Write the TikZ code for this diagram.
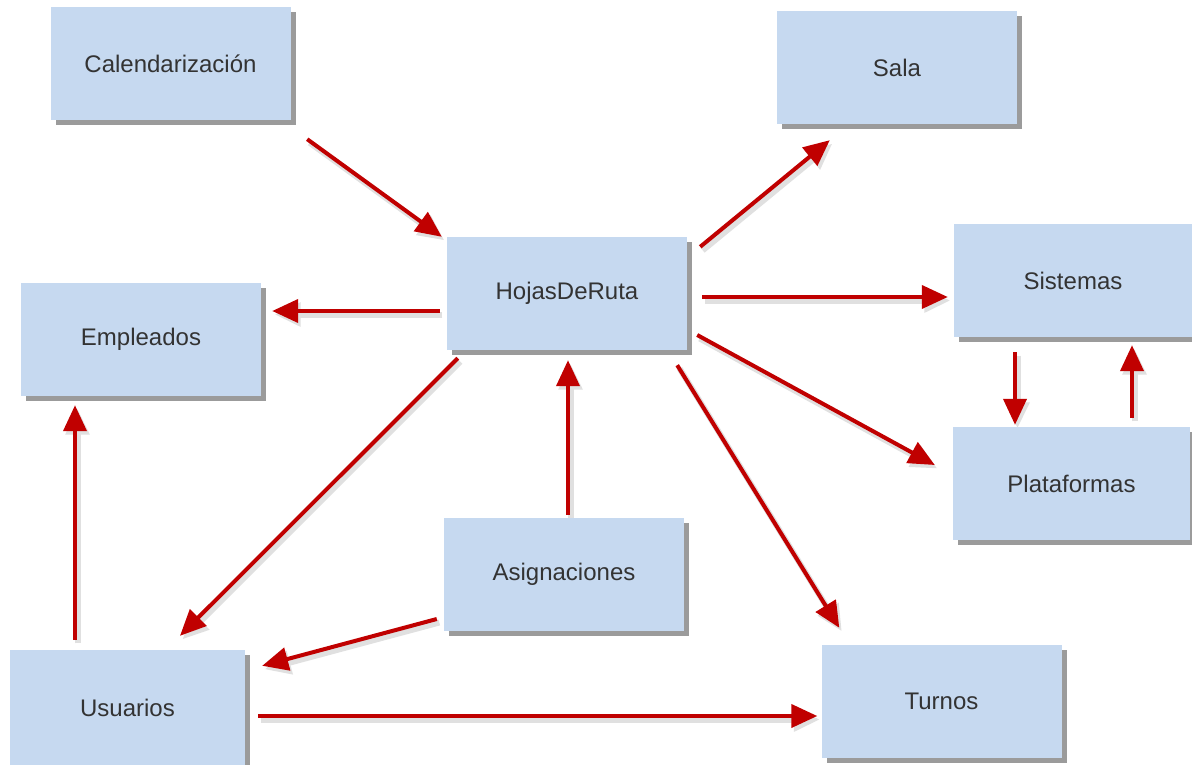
\documentclass[tikz,border=0pt]{standalone}
\usepackage{fontspec}
\setmainfont{Liberation Sans}
\usetikzlibrary{arrows.meta,shadows}
\definecolor{boxfill}{HTML}{C6D9F0}
\definecolor{arrred}{HTML}{C00000}
\definecolor{txt}{HTML}{333333}
\tikzset{
  box/.style={rectangle, fill=boxfill, minimum width=240pt, minimum height=113pt, inner sep=0pt,
    text=txt, font=\fontsize{24}{29}\selectfont,
    drop shadow={shadow xshift=5pt, shadow yshift=-5pt, fill=black!65, opacity=0.6}},
  arr/.style={line width=4pt, draw=arrred, -{Triangle[length=26pt,width=23pt]},
    preaction={draw=black!12, line width=6pt, transform canvas={xshift=2.5pt,yshift=-3.5pt}}}
}
\begin{document}
\begin{tikzpicture}[x=1pt,y=-1pt]
\useasboundingbox[fill=white] (0,0) rectangle (1192,765);
\node[box] (cal) at (170.5,63.5) {Calendarización};
\node[box] (sala) at (897,68) {Sala};
\node[box] (hoja) at (567,293.5) {HojasDeRuta};
\node[box] (emp) at (141,339.5) {Empleados};
\node[box, minimum width=238pt] (sis) at (1073,280.5) {Sistemas};
\node[box, minimum width=237pt] (plat) at (1071.5,483.5) {Plataformas};
\node[box] (asig) at (564,574.5) {Asignaciones};
\node[box, minimum width=235pt, minimum height=115pt] (usu) at (127.5,707.5) {Usuarios};
\node[box] (turn) at (941.5,701.5) {Turnos};

\draw[arr] ([shift={(16.5,19)}]cal.south east) -- ([shift={(-5,0)}]hoja.north west);
\draw[arr] ([shift={(13,10)}]hoja.north east) -- ([shift={(53,15.5)}]sala.south west);
\draw[arr] ([shift={(-7,17.5)}]hoja.west) -- ([shift={(11,-28.5)}]emp.east);
\draw[arr] ([shift={(15,3.5)}]hoja.east) -- ([shift={(-6,16.5)}]sis.west);
\draw[arr] ([shift={(10,41.5)}]hoja.east) -- ([shift={(-18,-18.5)}]plat.west);
\draw[arr] ([shift={(11,8)}]hoja.south west) -- ([shift={(52.5,-14)}]usu.north);
\draw[arr] ([shift={(-10,15)}]hoja.south east) -- ([shift={(18,-17)}]turn.north west);
\draw[arr] ([shift={(4,-3)}]asig.north) -- ([shift={(1,10)}]hoja.south);
\draw[arr] ([shift={(-7,44.5)}]asig.west) -- ([shift={(17,16)}]usu.north east);
\draw[arr] ([shift={(-52.5,-10)}]usu.north) -- ([shift={(-66,9)}]emp.south);
\draw[arr] ([shift={(13,8.5)}]usu.east) -- ([shift={(-4,14.5)}]turn.west);
\draw[arr] ([shift={(-58,15)}]sis.south) -- ([shift={(-56.5,-2)}]plat.north);
\draw[arr] ([shift={(60.5,-9)}]plat.north) -- ([shift={(59,8)}]sis.south);
\end{tikzpicture}
\end{document}
